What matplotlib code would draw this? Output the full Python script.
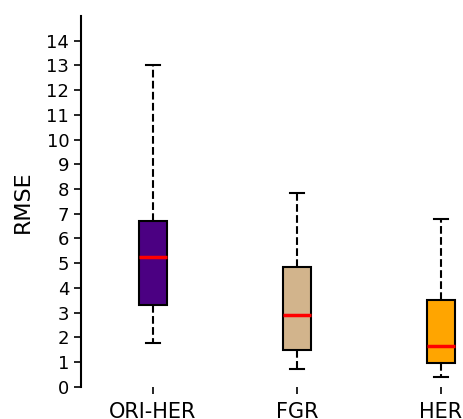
import matplotlib
matplotlib.use("Agg")
import matplotlib.pyplot as plt

# box statistics
labels = ["ORI-HER", "FGR", "HER"]
whislo = [1.76, 0.71, 0.40]
q1 = [3.30, 1.50, 0.94]
med = [5.23, 2.90, 1.66]
q3 = [6.70, 4.85, 3.50]
whishi = [13.0, 7.85, 6.80]
colors = ["#4B0082", "#D2B48C", "#FFA500"]

stats = []
for i in range(len(labels)):
    stats.append({"label": labels[i], "whislo": whislo[i], "q1": q1[i],
                  "med": med[i], "q3": q3[i], "whishi": whishi[i], "fliers": []})

fig = plt.figure(figsize=(4.63, 4.19), dpi=100)
ax = fig.add_axes([0.175, 0.077, 0.933, 0.885])

bp = ax.bxp(stats, positions=[1, 2, 3], widths=0.2, patch_artist=True,
            showfliers=False,
            boxprops=dict(linewidth=1.5, edgecolor="black"),
            whiskerprops=dict(linestyle="--", linewidth=1.5, color="black"),
            capprops=dict(linewidth=1.5, color="black"),
            medianprops=dict(color="red", linewidth=2.5))
for patch, c in zip(bp["boxes"], colors):
    patch.set_facecolor(c)

ax.set_xlim(0.5, 3.5)
ax.set_ylim(0, 15)
ax.set_yticks(range(0, 15))
ax.tick_params(axis="y", labelsize=13, length=5, width=1.2)
ax.tick_params(axis="x", labelsize=15, length=5, width=1.2, pad=6)
ax.set_ylabel("RMSE", fontsize=16, labelpad=10)

ax.spines["top"].set_visible(False)
ax.spines["right"].set_visible(False)
ax.spines["bottom"].set_visible(False)
ax.spines["left"].set_linewidth(1.5)

fig.savefig("out.png", dpi=100)
